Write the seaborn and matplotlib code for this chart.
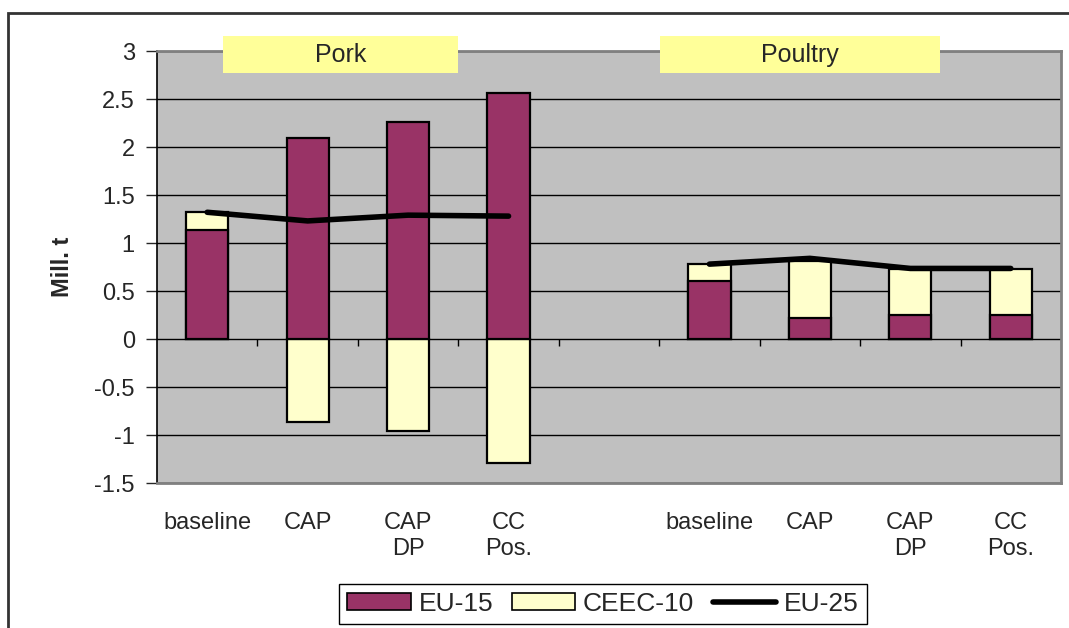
import numpy as np
import pandas as pd
import seaborn as sns
import matplotlib.pyplot as plt
from matplotlib.patches import Rectangle, Patch
from matplotlib.lines import Line2D

# values (Mill. t)
scenarios = ["baseline", "CAP", "CAP\nDP", "CC\nPos."]
groups = ["Pork", "Poultry"]
eu15_pork = [1.14, 2.09, 2.26, 2.56]
ceec_pork = [0.18, -0.86, -0.96, -1.29]
eu25_pork = [1.32, 1.23, 1.29, 1.28]
eu15_poultry = [0.60, 0.215, 0.25, 0.25]
ceec_poultry = [0.18, 0.595, 0.48, 0.48]
eu25_poultry = [0.78, 0.84, 0.735, 0.735]

col_eu15 = "#993366"
col_ceec = "#FFFFCC"

# slots 0-3 pork, 4 empty, 5-8 poultry
pos_pork = [0, 1, 2, 3]
pos_poultry = [5, 6, 7, 8]
df = pd.DataFrame({
    "pos": pos_pork + pos_poultry,
    "eu15": eu15_pork + eu15_poultry,
    "ceec": ceec_pork + ceec_poultry,
})
# yellow drawn first: full stack if positive, own negative bar otherwise
df["ceec_top"] = np.where(df["ceec"] >= 0, df["eu15"] + df["ceec"], df["ceec"])

sns.set_style("white")
plt.rcParams["font.family"] = ["Liberation Sans", "DejaVu Sans"]

fig = plt.figure(figsize=(10.69, 6.28), dpi=100)
ax = fig.add_axes([157 / 1069, 1 - 483 / 628, 904 / 1069, 432 / 628])
ax.set_facecolor("#C0C0C0")

order = list(range(9))
sns.barplot(data=df, x="pos", y="ceec_top", order=order, color=col_ceec,
            edgecolor="black", linewidth=1.6, width=0.42, saturation=1, ax=ax, zorder=3)
sns.barplot(data=df, x="pos", y="eu15", order=order, color=col_eu15,
            edgecolor="black", linewidth=1.6, width=0.42, saturation=1, ax=ax, zorder=3)

sns.lineplot(x=pos_pork, y=eu25_pork, color="black", lw=4, ax=ax, zorder=4)
sns.lineplot(x=pos_poultry, y=eu25_poultry, color="black", lw=4, ax=ax, zorder=4)

ax.set_ylim(-1.5, 3)
ax.set_xlim(-0.5, 8.5)
ax.set_yticks(np.arange(-1.5, 3.01, 0.5))
ax.set_yticklabels(["-1.5", "-1", "-0.5", "0", "0.5", "1", "1.5", "2", "2.5", "3"])
ax.yaxis.grid(True, color="black", lw=1)
ax.set_axisbelow(True)
ax.tick_params(axis="y", left=True, length=8, width=1, pad=8, labelsize=17)

ax.set_xticks(order)
ax.set_xticklabels(scenarios + [""] + scenarios)
ax.tick_params(axis="x", length=0, pad=21, labelsize=17)
# category separator ticks on the zero line
ax.vlines(np.arange(0.5, 8, 1.0), -0.07, 0, color="black", lw=1, zorder=2)

ax.set_xlabel("")
ax.set_ylabel("Mill. t", fontsize=17, fontweight="bold")
ax.yaxis.set_label_coords(-0.092, 0.5)

for s in ["top", "right", "bottom"]:
    ax.spines[s].set_color("#808080")
    ax.spines[s].set_linewidth(2)
ax.spines["left"].set_color("black")
ax.spines["left"].set_linewidth(1.2)

# group label boxes
for name, x0, x1 in [("Pork", 223, 458), ("Poultry", 660, 940)]:
    fig.add_artist(Rectangle((x0 / 1069, 1 - 73 / 628), (x1 - x0) / 1069, 37 / 628,
                             transform=fig.transFigure, facecolor="#FFFF99",
                             edgecolor="none", zorder=5))
    fig.text((x0 + x1) / 2 / 1069, 1 - 55 / 628, name, ha="center", va="center",
             fontsize=18, zorder=6)

# outer chart border
fig.add_artist(Rectangle((8 / 1069, -0.1), 1.1, 1.1 - 13 / 628, transform=fig.transFigure,
                         facecolor="none", edgecolor="#333333", lw=2, zorder=5))

handles = [Patch(facecolor=col_eu15, edgecolor="black", lw=1.2),
           Patch(facecolor=col_ceec, edgecolor="black", lw=1.2),
           Line2D([], [], color="black", lw=4)]
fig.legend(handles, ["EU-15", "CEEC-10", "EU-25"], loc="center",
           bbox_to_anchor=(603 / 1069, 1 - 604 / 628), ncol=3, fontsize=19,
           frameon=True, fancybox=False, edgecolor="black", framealpha=1,
           handlelength=2.4, handleheight=0.6, handletextpad=0.3,
           columnspacing=0.7, borderpad=0.3)

fig.savefig("out.png", dpi=100)
